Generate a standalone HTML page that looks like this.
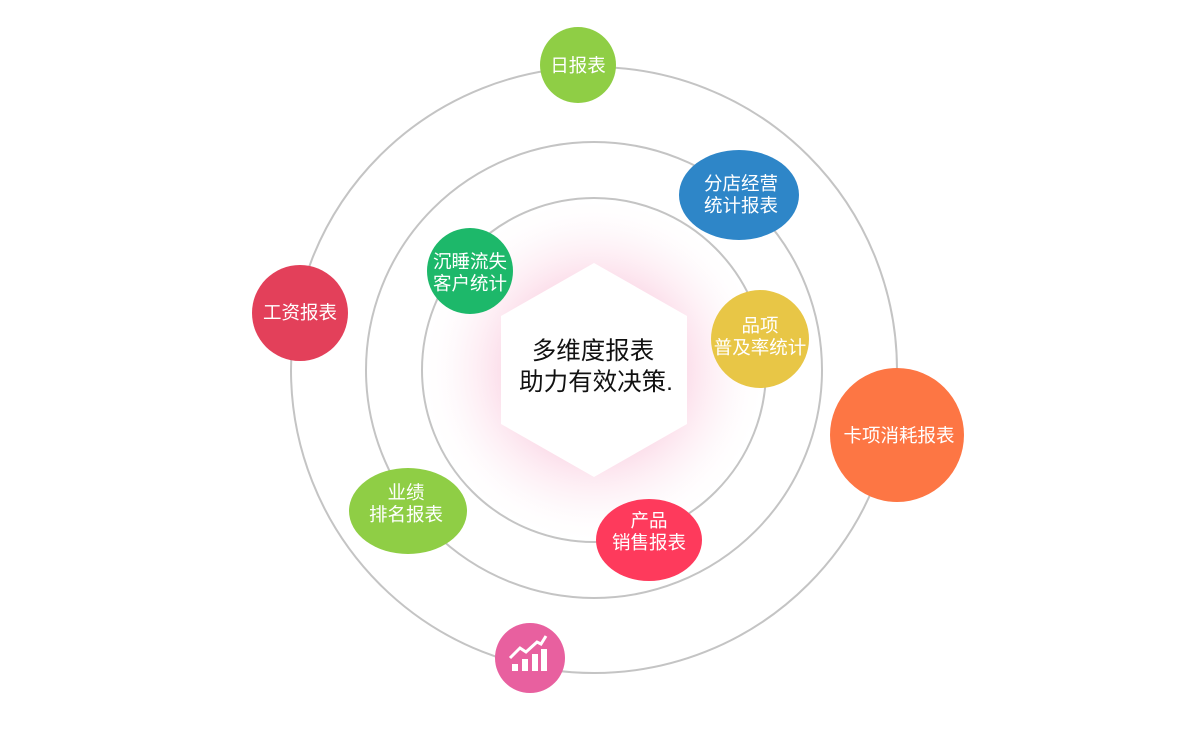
<!DOCTYPE html>
<html><head><meta charset="utf-8"><style>
html,body{margin:0;padding:0;background:#fff;}
svg text{font-family:"Liberation Sans","Noto Sans CJK SC",sans-serif;fill:#fff;text-anchor:middle;}
</style></head><body>
<svg width="1200" height="738" viewBox="0 0 1200 738" xmlns="http://www.w3.org/2000/svg">
<defs>
<radialGradient id="glow" cx="594" cy="370" r="175" gradientUnits="userSpaceOnUse">
<stop offset="0.5" stop-color="#f7a8c8" stop-opacity="0.4"/>
<stop offset="0.75" stop-color="#fbd3e3" stop-opacity="0.22"/>
<stop offset="1" stop-color="#fff" stop-opacity="0"/>
</radialGradient>
</defs>
<circle cx="594" cy="370" r="172" fill="url(#glow)"/>
<circle cx="594" cy="370" r="303" fill="none" stroke="#c4c4c4" stroke-width="2"/>
<circle cx="594" cy="370" r="228" fill="none" stroke="#c4c4c4" stroke-width="2"/>
<circle cx="594" cy="370" r="172" fill="none" stroke="#c4c4c4" stroke-width="2"/>
<polygon points="594,263 687,316 687,424 594,477 501,424 501,316" fill="#fff"/>
<text x="593" y="359" font-size="24.5" style="fill:#111">多维度报表</text>
<text x="596" y="390" font-size="24.5" style="fill:#111">助力有效决策.</text>

<circle cx="578" cy="65" r="38" fill="#8fce45"/>
<text x="578" y="72" font-size="18.5">日报表</text>

<ellipse cx="739" cy="195" rx="60" ry="45" fill="#2e86c8"/>
<text x="741" y="190" font-size="18.5">分店经营</text>
<text x="741" y="212" font-size="18.5">统计报表</text>

<circle cx="470" cy="271" r="43" fill="#1db86a"/>
<text x="470" y="268" font-size="18.5">沉睡流失</text>
<text x="470" y="290" font-size="18.5">客户统计</text>

<circle cx="760" cy="339" r="49" fill="#e8c646"/>
<text x="760" y="332" font-size="18.5">品项</text>
<text x="760" y="354" font-size="18.5">普及率统计</text>

<circle cx="300" cy="313" r="48" fill="#e3405a"/>
<text x="300" y="319" font-size="18.5">工资报表</text>

<circle cx="897" cy="435" r="67" fill="#fd7644"/>
<text x="899" y="442" font-size="18.5">卡项消耗报表</text>

<ellipse cx="408" cy="511" rx="59" ry="43" fill="#8fce45"/>
<text x="406" y="499" font-size="18.5">业绩</text>
<text x="406" y="521" font-size="18.5">排名报表</text>

<ellipse cx="649" cy="540" rx="53" ry="41" fill="#fe3a5c"/>
<text x="649" y="527" font-size="18.5">产品</text>
<text x="649" y="549" font-size="18.5">销售报表</text>

<circle cx="530" cy="658" r="35" fill="#e8609f"/>
<polyline points="510,658 520,648 526,652 537,642 541,644 546,636" fill="none" stroke="#fff" stroke-width="3"/>
<rect x="512" y="664" width="6" height="7" fill="#fff"/>
<rect x="522" y="659" width="6" height="12" fill="#fff"/>
<rect x="532" y="654" width="6" height="17" fill="#fff"/>
<rect x="541" y="649" width="6" height="22" fill="#fff"/>
</svg>
</body></html>
